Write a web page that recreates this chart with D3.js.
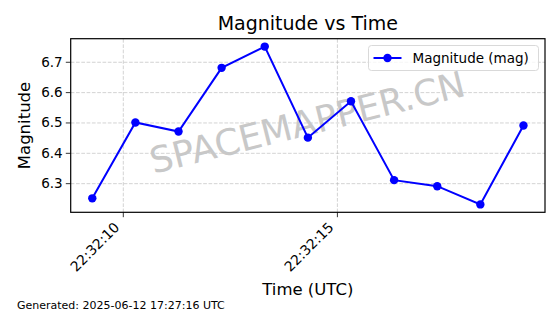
<!doctype html>
<html lang="en">
  <head>
    <meta charset="utf-8">
    <title>Magnitude vs Time</title>
    <style>
    body { margin: 0; background: #fff; }
    text { font-family: "DejaVu Sans", sans-serif; }
    .grid line { stroke: #b0b0b0; stroke-opacity: 0.7; stroke-dasharray: 3.7,1.6; stroke-width: 0.8px; }
    .grid path { display: none; }
    </style>
  </head>
  <body>
    <div id="content"></div>

    <script src="https://d3js.org/d3.v7.min.js"></script>
    <script type="text/javascript">
    var w = 560;
    var h = 314;

    // readings (seconds past 22:32:00 UTC) and magnitudes
    var times = [9.287, 10.294, 11.301, 12.308, 13.315, 14.322, 15.329, 16.336, 17.343, 18.350, 19.357];
    var mags = [6.25, 6.50, 6.47, 6.68, 6.75, 6.45, 6.57, 6.31, 6.29, 6.23, 6.49];
    var yTicks = [6.3, 6.4, 6.5, 6.6, 6.7];
    var xTicks = [10, 15];

    var base = Date.UTC(2025, 5, 12, 22, 32, 0);
    var dataset = times.map((t, i) => ({ 'x': new Date(base + t * 1000), 'y': mags[i] }));

    var margin = { left: 70.7, right: 15, top: 38.7, bottom: 101.7 };

    var svg = d3.select('#content')
                .append('svg')
                .attr('width', w)
                .attr('height', h);

    var xPad = (times[times.length - 1] - times[0]) * 0.05;
    var xScale = d3.scaleUtc()
                   .domain([new Date(base + (times[0] - xPad) * 1000),
                            new Date(base + (times[times.length - 1] + xPad) * 1000)])
                   .range([margin.left, w - margin.right]);

    var yMin = d3.min(mags), yMax = d3.max(mags);
    var yPad = (yMax - yMin) * 0.05;
    var yScale = d3.scaleLinear()
                   .domain([yMin - yPad, yMax + yPad])
                   .range([h - margin.bottom, margin.top]);

    var xTickDates = xTicks.map(s => new Date(base + s * 1000));
    var fmt = d3.utcFormat('%H:%M:%S');

    // grid
    svg.append('g')
      .attr('class', 'grid')
      .attr('transform', `translate(0, ${h - margin.bottom})`)
      .call(d3.axisBottom(xScale).tickValues(xTickDates).tickSize(-(h - margin.bottom - margin.top)).tickFormat(''));

    svg.append('g')
      .attr('class', 'grid')
      .attr('transform', `translate(${margin.left}, 0)`)
      .call(d3.axisLeft(yScale).tickValues(yTicks).tickSize(-(w - margin.right - margin.left)).tickFormat(''));

    // watermark
    svg.append('text')
      .attr('transform', `translate(308, 125) rotate(-14)`)
      .attr('text-anchor', 'middle')
      .attr('dominant-baseline', 'middle')
      .style('font-size', '36px')
      .style('fill', '#c8c8c8')
      .text('SPACEMAPPER.CN');

    // line + markers
    var line = d3.line()
                 .x(d => xScale(d.x))
                 .y(d => yScale(d.y));

    svg.append('path')
      .datum(dataset)
      .attr('d', line)
      .attr('fill', 'none')
      .attr('stroke', '#0000ff')
      .attr('stroke-width', 2);

    svg.selectAll('circle.pt')
      .data(dataset)
      .enter()
      .append('circle')
      .attr('class', 'pt')
      .attr('cx', d => xScale(d.x))
      .attr('cy', d => yScale(d.y))
      .attr('r', 4.2)
      .attr('fill', '#0000ff');

    // axes
    var xAxis = svg.append('g')
      .attr('transform', `translate(0, ${h - margin.bottom})`)
      .call(d3.axisBottom(xScale).tickValues(xTickDates).tickFormat(fmt).tickSize(4.9).tickSizeOuter(0));

    xAxis.selectAll('text')
      .style('font-size', '13.9px')
      .attr('text-anchor', 'end')
      .attr('dy', null)
      .attr('y', 0)
      .attr('transform', 'translate(-3, 16) rotate(-45)');

    var yAxis = svg.append('g')
      .attr('transform', `translate(${margin.left}, 0)`)
      .call(d3.axisLeft(yScale).tickValues(yTicks).tickFormat(d3.format('.1f')).tickSize(4.9).tickSizeOuter(0));

    yAxis.selectAll('text').style('font-size', '13.5px').attr('x', -8);
    svg.selectAll('.domain').remove();
    svg.selectAll('g:not(.grid) .tick line').attr('stroke', '#000').attr('stroke-width', 0.8);

    // frame
    svg.append('rect')
      .attr('x', margin.left)
      .attr('y', margin.top)
      .attr('width', w - margin.left - margin.right)
      .attr('height', h - margin.top - margin.bottom)
      .attr('fill', 'none')
      .attr('stroke', '#000')
      .attr('stroke-width', 1.2);

    // legend
    var lg = svg.append('g').attr('transform', 'translate(368.5, 45.5)');
    lg.append('rect')
      .attr('width', 170)
      .attr('height', 25)
      .attr('rx', 3)
      .attr('fill', '#fff')
      .attr('fill-opacity', 0.8)
      .attr('stroke', '#d9d9d9');
    lg.append('line')
      .attr('x1', 5).attr('x2', 33).attr('y1', 12.5).attr('y2', 12.5)
      .attr('stroke', '#0000ff').attr('stroke-width', 2);
    lg.append('circle').attr('cx', 19).attr('cy', 12.5).attr('r', 4.2).attr('fill', '#0000ff');
    lg.append('text')
      .attr('x', 44).attr('y', 17.5)
      .style('font-size', '13.5px')
      .text('Magnitude (mag)');

    // titles
    svg.append('text')
      .attr('x', (margin.left + w - margin.right) / 2)
      .attr('y', 30)
      .attr('text-anchor', 'middle')
      .style('font-size', '19px')
      .text('Magnitude vs Time');

    svg.append('text')
      .attr('x', (margin.left + w - margin.right) / 2)
      .attr('y', 295)
      .attr('text-anchor', 'middle')
      .style('font-size', '16.5px')
      .text('Time (UTC)');

    svg.append('text')
      .attr('transform', `translate(30, ${(margin.top + h - margin.bottom) / 2}) rotate(-90)`)
      .attr('text-anchor', 'middle')
      .style('font-size', '16.5px')
      .text('Magnitude');

    svg.append('text')
      .attr('x', 17)
      .attr('y', 309)
      .style('font-size', '11px')
      .text('Generated: 2025-06-12 17:27:16 UTC');
    </script>
  </body>
</html>
